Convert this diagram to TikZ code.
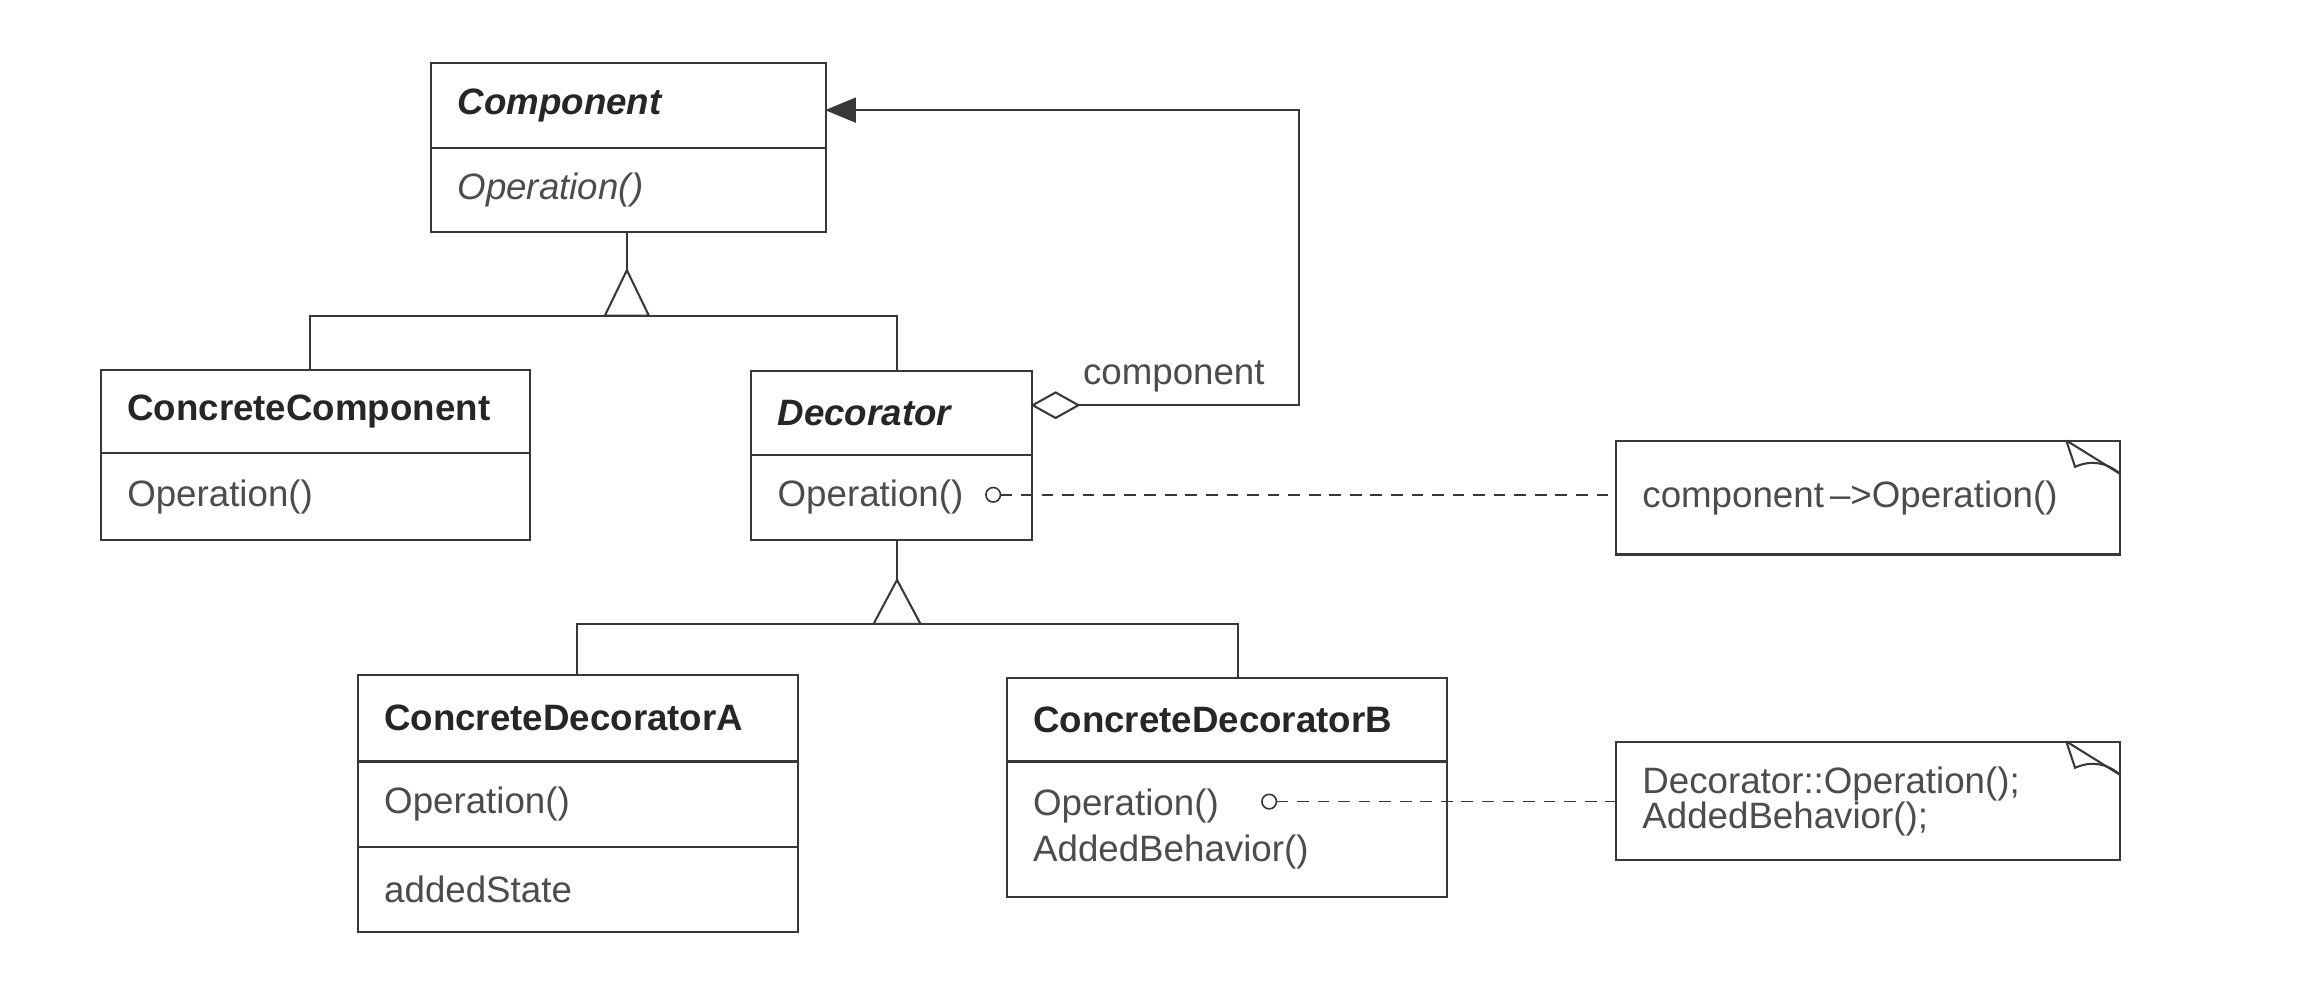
\documentclass[tikz,border=0pt]{standalone}
\usepackage{fontspec}
\setmainfont{Liberation Sans}
\usetikzlibrary{calc,arrows.meta}
\definecolor{inkline}{HTML}{383838}
\definecolor{inktext}{HTML}{4C4C4C}
\definecolor{inkbold}{HTML}{262626}
\newcommand\classpart[7][part]{% style, name, x, y, width, height, text
\pgfmathsetmacro\partwd{#5-36}
\node[#1, minimum width=#5, minimum height=#6, text width=\partwd pt] (#2) at (#3,#4) {#7};}
\newcommand\notefold[1]{% dog ear of a note
\draw ($(#1.north east)+(-37,0)$) -- ($(#1.north east)+(0,23)$);
\draw ($(#1.north east)+(-37,0)$) -- ($(#1.north east)+(-31,18)$)
  .. controls ($(#1.north east)+(-20,13)$) and ($(#1.north east)+(-9,15)$) .. ($(#1.north east)+(0,23)$);}

\begin{document}
\begin{tikzpicture}[x=1pt,y=-1pt,line width=1.4pt,draw=inkline,
  part/.style={draw=inkline,rectangle,anchor=north west,inner xsep=18pt,inner ysep=0pt,
    align=left,text=inktext,font=\fontsize{25}{31}\selectfont},
  head/.style={part,text=inkbold,font=\fontsize{25}{31}\selectfont\bfseries},
  ahead/.style={part,text=inkbold,font=\fontsize{25}{31}\selectfont\bfseries\itshape},
  note/.style={part,font=\fontsize{25}{24}\selectfont},
  dep/.style={line width=1.1pt,dash pattern=on 8pt off 6pt,{Circle[open,length=11pt,width=11pt]}-}]
      \path[fill=white,use as bounding box] (0,0) rectangle (1568,678);

      % classes
      \classpart[ahead]{comphead}{293}{42}{269}{58}{Component}
      \classpart{compop}{293}{100}{269}{57}{\itshape Operation()}
      \classpart[head]{ccomphead}{68}{251}{292}{57}{ConcreteComponent}
      \classpart{ccompop}{68}{308}{292}{59}{Operation()}
      \classpart[ahead]{decohead}{511}{252}{191}{57}{Decorator}
      \classpart{decoop}{511}{309}{191}{58}{Operation()}
      \classpart[head]{cdahead}{243}{459}{300}{59}{ConcreteDecoratorA}
      \classpart{cdaop}{243}{518}{300}{58}{Operation()}
      \classpart{cdastate}{243}{576}{300}{58}{addedState}
      \classpart[head]{cdbhead}{685}{461}{300}{57}{ConcreteDecoratorB}
      \classpart{cdbop}{685}{518}{300}{92}{Operation()\\AddedBehavior()}

      % notes
      \classpart[note]{note1}{1100}{300}{343}{77}{component\,–>Operation()}
      \classpart[note]{note2}{1100}{505}{343}{80}{Decorator::Operation();\\AddedBehavior();}
      \notefold{note1}
      \notefold{note2}

      % inheritance
      \coordinate (gen1) at (427,184);
      \coordinate (bar1) at (427,215);
      \draw (427,0 |- compop.south) -- (gen1);
      \draw (211,0 |- ccomphead.north) |- (bar1) -| (611,0 |- decohead.north);
      \draw[fill=white] (gen1) -- ($(bar1)+(-15,0)$) -- ($(bar1)+(15,0)$) -- cycle;

      \coordinate (gen2) at (611,395);
      \coordinate (bar2) at (611,425);
      \draw (611,0 |- decoop.south) -- (gen2);
      \draw (393,0 |- cdahead.north) |- (bar2) -| (843,0 |- cdbhead.north);
      \draw[fill=white] (gen2) -- ($(bar2)+(-16,0)$) -- ($(bar2)+(16,0)$) -- cycle;

      % aggregation
      \coordinate (aggfrom) at (702,276);
      \coordinate (aggturn) at (885,75);
      \coordinate (compin) at (562,75);
      \draw[{Diamond[open,length=34pt,width=19pt]}-{Triangle[length=21pt,width=17pt]}]
        (aggfrom) -| (aggturn) -- (compin);
      \node[anchor=base west,inner sep=0pt,text=inktext,font=\fontsize{25}{31}\selectfont]
        (rolename) at (737,262) {component};

      % implementation notes
      \coordinate (dot1) at (671,337);
      \coordinate (dot2) at (859,546);
      \draw[dep] (dot1) -- (dot1 -| note1.west);
      \draw[dep] (dot2) -- (dot2 -| note2.west);
\end{tikzpicture}
\end{document}
